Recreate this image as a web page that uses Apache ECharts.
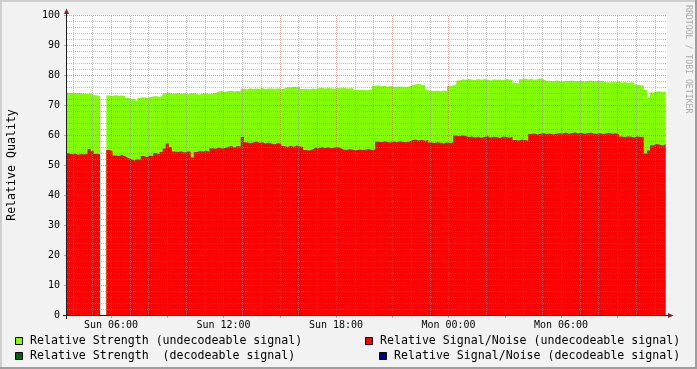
<!DOCTYPE html>
<html><head><meta charset="utf-8">
<script src="https://cdn.jsdelivr.net/npm/echarts@6/dist/echarts.min.js"></script>
<style>html,body{margin:0;padding:0;background:#f2f2f2}#c{width:697px;height:369px}</style>
</head><body><div id="c"></div>
<script>
// ---- data (hours after Sun 00:00, 10-minute samples) ----
const START_HOUR = 3 + 35 / 60;
const STEP_HOUR = 1 / 6;
const X_MIN = 3.6533, X_MAX = 35.6533;

const strength = [
  74.1, 74.0, 74.1, 74.0, 73.9, 73.8, 73.7, 73.8, 73.4, 73.2,
  73.1, null, null, 73.2, 73.0, 73.3, 73.1, 73.2, 73.0, 72.3,
  72.1, 71.9, 71.3, 72.4, 72.6, 72.3, 72.7, 72.8, 73.0, 72.7,
  73.1, 73.9, 74.2, 73.8, 73.8, 74.0, 73.7, 73.9, 73.6, 73.8,
  74.0, 73.7, 73.5, 73.8, 73.9, 73.6, 73.8, 74.0, 74.5, 74.7,
  74.4, 74.6, 74.8, 74.5, 74.7, 74.6, 75.4, 75.2, 75.6, 75.3,
  75.5, 75.4, 75.7, 75.3, 75.5, 75.5, 75.4, 75.6, 75.3, 75.5,
  76.0, 75.8, 76.1, 75.9, 76.0, 75.3, 75.4, 75.2, 75.5, 75.3,
  75.6, 75.8, 75.5, 75.7, 75.6, 75.4, 75.7, 75.6, 75.8, 75.5,
  75.6, 75.7, 75.0, 75.0, 75.1, 74.9, 75.0, 75.1, 76.3, 76.6,
  76.2, 76.4, 76.1, 76.3, 76.1, 76.0, 76.2, 76.1, 76.0, 76.2,
  76.6, 76.9, 77.0, 76.8, 76.5, 74.9, 74.8, 74.7, 74.8, 74.6,
  74.8, 74.7, 76.3, 76.5, 76.8, 78.2, 78.6, 78.4, 78.7, 78.5,
  78.3, 78.7, 78.4, 78.6, 78.5, 78.2, 78.6, 78.4, 78.5, 78.3,
  78.7, 78.5, 78.4, 77.3, 77.2, 78.6, 78.8, 78.5, 78.7, 78.4,
  78.6, 78.9, 78.5, 78.0, 78.1, 77.9, 78.2, 78.0, 77.8, 78.1,
  78.0, 78.2, 77.9, 78.0, 78.1, 77.8, 78.0, 78.2, 77.9, 78.0,
  78.1, 77.9, 77.6, 77.5, 77.7, 77.6, 77.8, 77.5, 77.7, 77.4,
  77.6, 77.5, 76.8, 76.6, 76.5, 75.0, 72.4, 74.2, 74.5, 74.6,
  74.3, 74.6, 74.5
];
const snr = [
  53.9, 53.6, 53.8, 53.4, 53.7, 53.5, 53.8, 55.3, 54.6, 53.7,
  53.6, null, null, 55.0, 54.6, 53.2, 53.0, 53.4, 52.9, 52.3,
  51.9, 51.5, 52.0, 51.8, 53.0, 52.7, 53.2, 52.9, 54.0, 53.6,
  54.3, 55.5, 57.2, 56.0, 54.5, 54.3, 54.6, 54.2, 54.5, 54.4,
  52.5, 54.3, 54.7, 54.5, 54.8, 54.4, 55.6, 55.4, 55.8, 55.5,
  55.7, 56.0, 56.4, 55.8, 56.3, 56.2, 59.3, 57.6, 57.3, 57.5,
  57.8, 57.4, 57.6, 57.2, 57.5, 57.1, 56.9, 57.3, 57.0, 56.3,
  56.0, 56.4, 56.1, 56.5, 56.2, 56.0, 55.0, 54.8, 55.2, 55.8,
  55.6, 56.0, 55.7, 55.9, 55.6, 55.8, 56.0, 55.7, 55.1, 55.0,
  55.3, 55.1, 54.9, 55.2, 55.0, 55.1, 55.3, 55.0, 55.2, 57.8,
  57.6, 57.9, 57.7, 57.5, 57.8, 57.6, 57.9, 57.7, 57.6, 57.8,
  58.3, 58.5, 58.2, 58.4, 58.1, 58.3, 57.5, 57.3, 57.6, 57.4,
  57.2, 57.5, 57.3, 57.6, 59.8, 59.6, 59.9, 59.7, 59.3, 59.5,
  59.2, 59.4, 59.1, 59.3, 59.6, 59.2, 59.4, 59.3, 59.0, 59.5,
  59.3, 59.2, 59.4, 58.3, 58.2, 58.4, 58.3, 58.1, 60.3, 60.5,
  60.2, 60.4, 60.6, 60.3, 60.5, 60.2, 60.4, 60.6, 60.5, 60.8,
  60.4, 60.6, 60.9, 60.5, 60.7, 60.4, 60.6, 60.8, 60.5, 60.4,
  60.6, 60.3, 60.5, 60.7, 60.4, 60.6, 60.3, 59.5, 59.3, 59.6,
  59.4, 59.2, 59.5, 59.3, 59.4, 53.8, 54.8, 56.6, 57.0, 56.8,
  56.5, 56.9, 56.7
];
const xTickHours = [6, 12, 18, 24, 30];
const xTickLabels = ['Sun 06:00', 'Sun 12:00', 'Sun 18:00', 'Mon 00:00', 'Mon 06:00'];
const xMajorHours = [6, 9, 12, 15, 18, 21, 24, 27, 30, 33];
const xMinorHours = [4, 5, 7, 8, 10, 11, 13, 14, 16, 17, 19, 20, 22, 23, 25, 26, 28, 29, 31, 32, 34, 35];
const seriesNames = [
  'Relative Strength (undecodeable signal)',
  'Relative Signal/Noise (undecodeable signal)',
  'Relative Strength  (decodeable signal)',
  'Relative Signal/Noise (decodeable signal)'
];
const seriesColors = ['#80ff00', '#ff0000', '#006400', '#000088'];

// ---- build ----
const times = strength.map((_, k) => START_HOUR + k * STEP_HOUR);
const pairs = arr => arr.map((v, k) => [times[k], v]);
const MONO = '"DejaVu Sans Mono", "Liberation Mono", monospace';
const GRID_C = 'rgba(143,143,143,0.55)';
const MGRID_C = 'rgba(222,79,79,0.6)';
const VMGRID_C = 'rgba(222,79,79,0.45)';

const vLines = xMinorHours.map(h => ({ xAxis: h, lineStyle: { color: GRID_C, type: 'dotted', width: 1 } }))
  .concat(xMajorHours.map(h => ({ xAxis: h, lineStyle: { color: VMGRID_C, type: 'dotted', width: 1 } })));

function legendItem(i, ix, tx, cy) {
  return [
    { type: 'rect', z: 10, shape: { x: ix + 0.5, y: cy - 3.5, width: 7, height: 7 },
      style: { fill: seriesColors[i], stroke: '#000', lineWidth: 1 } },
    { type: 'text', z: 10, x: tx, y: cy,
      style: { text: seriesNames[i], font: '11.6px ' + MONO, fill: '#000', textVerticalAlign: 'middle', textAlign: 'left' } }
  ];
}

const chart = echarts.init(document.getElementById('c'), null, { renderer: 'canvas' });
chart.setOption({
  animation: false,
  backgroundColor: '#f2f2f2',
  grid: { left: 67, top: 15, width: 600, height: 300, show: true, backgroundColor: '#ffffff', borderWidth: 0 },
  xAxis: {
    type: 'value', min: X_MIN, max: X_MAX,
    axisLine: { show: false },
    splitLine: { show: false },
    axisTick: { show: true, customValues: xMajorHours, length: 3, lineStyle: { color: MGRID_C } },
    axisLabel: {
      customValues: xTickHours, margin: 5,
      fontFamily: MONO, fontSize: 10, color: '#000',
      formatter: v => xTickLabels[xTickHours.indexOf(Math.round(v))] || ''
    }
  },
  yAxis: {
    type: 'value', min: 0, max: 100, interval: 10, z: 5, offset: 1,
    axisLine: { show: false },
    axisTick: { show: true, length: 2, lineStyle: { color: MGRID_C } },
    minorTick: { show: false, splitNumber: 5 },
    splitLine: { show: true, lineStyle: { color: MGRID_C, type: 'dotted', width: 1 } },
    minorSplitLine: { show: true, lineStyle: { color: GRID_C, type: 'dotted', width: 1 } },
    axisLabel: { margin: 6, fontFamily: MONO, fontSize: 10, color: '#000' }
  },
  series: [
    { name: seriesNames[0], type: 'line', step: 'end', symbol: 'none', z: 2,
      data: pairs(strength), color: seriesColors[0],
      lineStyle: { width: 0 }, areaStyle: { color: seriesColors[0], opacity: 1 } },
    { name: seriesNames[1], type: 'line', step: 'end', symbol: 'none', z: 3,
      data: pairs(snr), color: seriesColors[1],
      lineStyle: { width: 0 }, areaStyle: { color: seriesColors[1], opacity: 1 },
      markLine: { silent: true, symbol: 'none', z: 6, label: { show: false }, data: vLines } },
    { name: seriesNames[2], type: 'line', data: [], color: seriesColors[2] },
    { name: seriesNames[3], type: 'line', data: [], color: seriesColors[3] }
  ],
  graphic: [
    { type: 'rect', z: 0, shape: { x: 0, y: 0, width: 697, height: 2 }, style: { fill: '#cfcfcf' } },
    { type: 'rect', z: 0, shape: { x: 0, y: 0, width: 2, height: 369 }, style: { fill: '#cfcfcf' } },
    { type: 'rect', z: 0, shape: { x: 0, y: 367, width: 697, height: 2 }, style: { fill: '#9e9e9e' } },
    { type: 'rect', z: 0, shape: { x: 695, y: 0, width: 2, height: 369 }, style: { fill: '#9e9e9e' } },
    // axes and arrows
    { type: 'line', z: 10, shape: { x1: 66.5, y1: 319, x2: 66.5, y2: 12 }, style: { stroke: '#1f1f1f', lineWidth: 1 } },
    { type: 'line', z: 10, shape: { x1: 63, y1: 315.5, x2: 669, y2: 315.5 }, style: { stroke: '#1f1f1f', lineWidth: 1 } },
    { type: 'polygon', z: 11, shape: { points: [[64, 14], [69, 14], [66.5, 8.5]] }, style: { fill: '#801f1f' } },
    { type: 'polygon', z: 11, shape: { points: [[668, 313], [668, 318], [673.5, 315.5]] }, style: { fill: '#801f1f' } },
    // y axis title
    { type: 'text', z: 10, x: 12, y: 165, rotation: Math.PI / 2,
      style: { text: 'Relative Quality', font: '11.6px ' + MONO, fill: '#000', textAlign: 'center', textVerticalAlign: 'middle' } },
    // watermark
    { type: 'text', z: 10, x: 688, y: 5, rotation: -Math.PI / 2,
      style: { text: 'RRDTOOL / TOBI OETIKER', font: '8.2px ' + MONO, fill: '#aaaaaa', textAlign: 'left', textVerticalAlign: 'middle' } }
  ].concat(legendItem(0, 15, 30, 341), legendItem(2, 15, 30, 356),
           legendItem(1, 365, 380, 341), legendItem(3, 379, 394, 356))
});
</script></body></html>
